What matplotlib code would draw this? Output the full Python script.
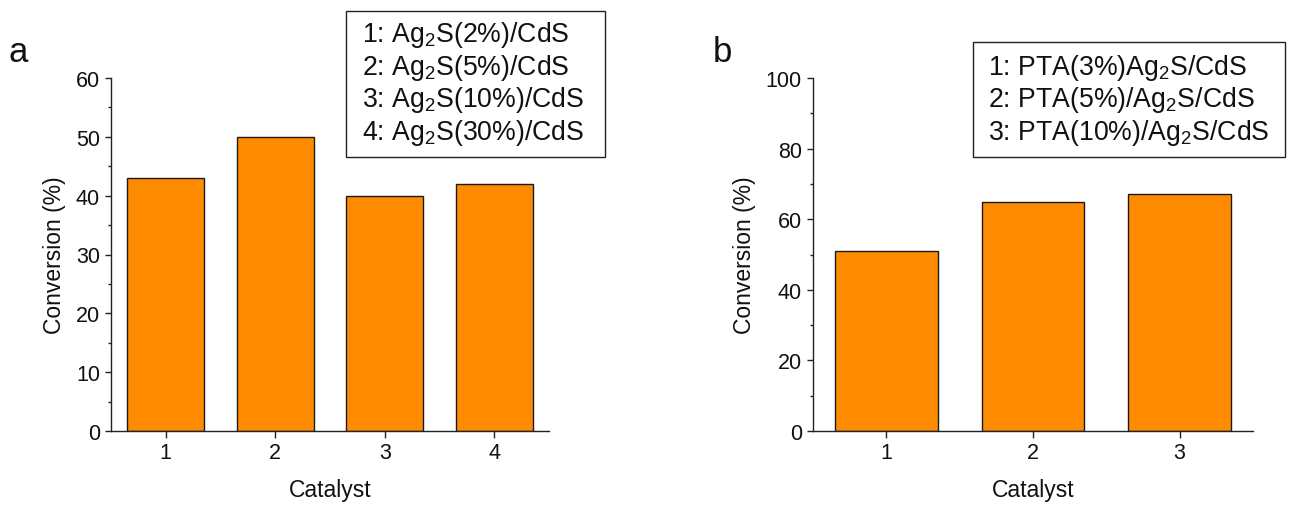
import matplotlib
matplotlib.use("Agg")
import matplotlib.pyplot as plt
from matplotlib.patches import Rectangle
from matplotlib.ticker import MultipleLocator

plt.rcParams['font.family'] = ['Liberation Sans', 'DejaVu Sans']
plt.rcParams['mathtext.default'] = 'regular'

# Data
cats_a = [1, 2, 3, 4]
vals_a = [43, 50, 40, 42]
labels_a = [r'1: Ag$_2$S(2%)/CdS', r'2: Ag$_2$S(5%)/CdS',
            r'3: Ag$_2$S(10%)/CdS', r'4: Ag$_2$S(30%)/CdS']
cats_b = [1, 2, 3]
vals_b = [51, 65, 67]
labels_b = [r'1: PTA(3%)Ag$_2$S/CdS', r'2: PTA(5%)/Ag$_2$S/CdS',
            r'3: PTA(10%)/Ag$_2$S/CdS']

W, H = 1291, 506
fig = plt.figure(figsize=(W/100, H/100), dpi=100)

def px_axes(x0, x1, y0, y1):
    return fig.add_axes([x0/W, 1 - y1/H, (x1-x0)/W, (y1-y0)/H])

bar_color = '#FF8C00'
spine_c = '#222222'

def style(ax, cats, ymax, major, minor):
    ax.set_xlim(0.5, max(cats) + 0.5)
    ax.set_ylim(0, ymax)
    ax.set_xticks(cats)
    ax.yaxis.set_major_locator(MultipleLocator(major))
    ax.yaxis.set_minor_locator(MultipleLocator(minor))
    for s in ['top', 'right']:
        ax.spines[s].set_visible(False)
    for s in ['left', 'bottom']:
        ax.spines[s].set_color(spine_c)
        ax.spines[s].set_linewidth(1.0)
    ax.tick_params(axis='y', which='major', direction='out', length=4,
                   width=1.0, labelsize=15.5, color=spine_c, labelcolor='#111111', pad=4)
    ax.tick_params(axis='x', which='major', direction='out', length=5,
                   width=1.0, labelsize=15.5, color=spine_c, labelcolor='#111111', pad=3)
    ax.tick_params(axis='y', which='minor', direction='out', length=2.5, width=1.0,
                   color=spine_c)
    ax.set_xlabel('Catalyst', fontsize=16.5, labelpad=11, color='#111111')
    ax.set_ylabel('Conversion (%)', fontsize=16.5, labelpad=7, color='#111111')

ax1 = px_axes(111, 549, 79, 432)
ax1.bar(cats_a, vals_a, width=0.7, color=bar_color, edgecolor='#1a1a1a', linewidth=1.0)
style(ax1, cats_a, 60, 10, 5)

ax2 = px_axes(813, 1253, 79, 432)
ax2.bar(cats_b, vals_b, width=0.7, color=bar_color, edgecolor='#1a1a1a', linewidth=1.0)
style(ax2, cats_b, 100, 20, 10)

# legend boxes
def box(x0, x1, y0, y1, tx, lines_y, labels):
    r = Rectangle((x0/W, 1 - y1/H), (x1-x0)/W, (y1-y0)/H, transform=fig.transFigure,
                  fill=False, edgecolor='#222222', linewidth=1.0)
    fig.add_artist(r)
    for ly, lab in zip(lines_y, labels):
        fig.text(tx/W, 1 - ly/H, lab, fontsize=19.2, ha='left', va='center', color='#111111')

box(346, 605, 12, 158, 362, [35, 68, 100, 133], labels_a)
box(973, 1285, 43, 158, 988, [68, 100, 133], labels_b)

fig.text(18/W, 1 - 52/H, 'a', fontsize=25, ha='center', va='center', color='#111111')
fig.text(722/W, 1 - 52/H, 'b', fontsize=25, ha='center', va='center', color='#111111')

fig.savefig('out.png', dpi=100)
